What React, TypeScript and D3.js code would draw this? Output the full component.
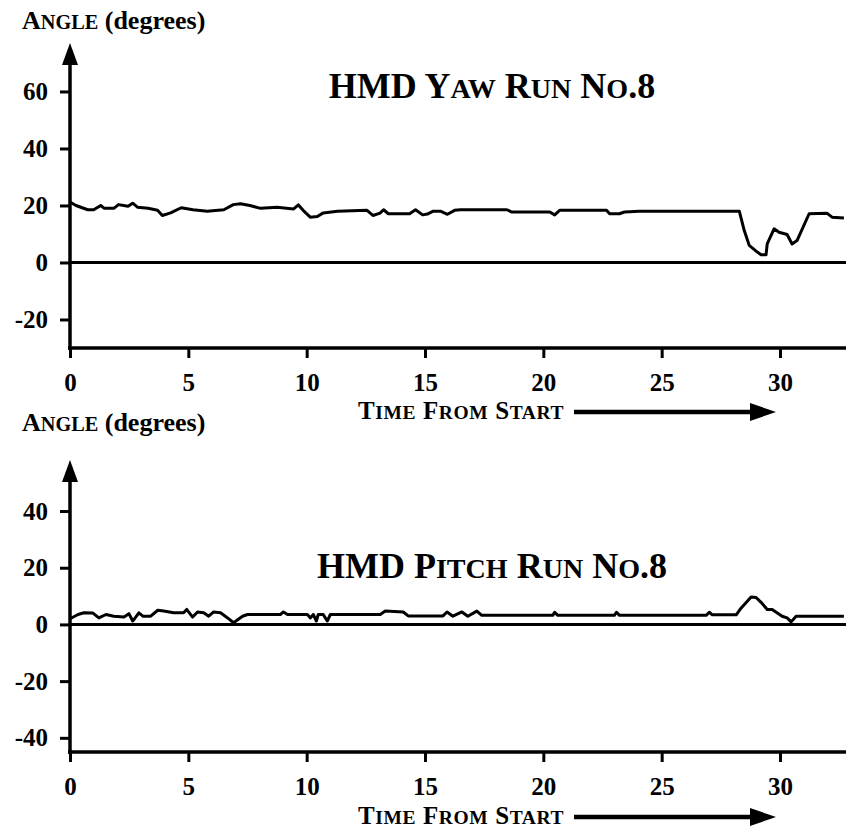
import React, { useEffect, useRef } from 'react';
import * as d3 from 'd3';

const WIDTH = 846;
const HEIGHT = 834;
const FONT = '"Liberation Serif", "Times New Roman", serif';

// ── Data ─────────────────────────────────────────────────────────────
const timeTicks = [0, 5, 10, 15, 20, 25, 30];
const yawTicks = [60, 40, 20, 0, -20];
const pitchTicks = [40, 20, 0, -20, -40];

// HMD yaw, run no.8 (seconds from start, degrees)
const yawTime = [0, 0.25, 0.75, 1.0, 1.3, 1.45, 1.85, 2.05, 2.45, 2.65, 2.85, 3.3, 3.7, 3.9, 4.25, 4.7, 5.2, 5.8, 6.5, 6.9, 7.2, 7.6, 8.05, 8.75, 9.45, 9.65, 9.85, 10.15, 10.45, 10.7, 11.3, 12.55, 12.8, 13.1, 13.25, 13.45, 14.35, 14.6, 14.9, 15.1, 15.35, 15.65, 15.95, 16.25, 16.5, 18.46, 18.67, 20.27, 20.48, 20.69, 22.67, 22.8, 23.21, 23.43, 24.06, 28.28, 28.49, 28.7, 28.99, 29.2, 29.41, 29.46, 29.75, 29.96, 30.3, 30.51, 30.72, 31.23, 31.98, 32.2, 32.7];
const yawAngle = [21.2, 20, 18.5, 18.5, 20, 19, 19, 20.3, 19.7, 20.8, 19.4, 19, 18.3, 16.5, 17.4, 19.2, 18.5, 18, 18.5, 20.3, 20.6, 20, 19, 19.4, 18.8, 20.2, 18.3, 15.9, 16.1, 17.4, 18, 18.3, 16.5, 17.3, 18.5, 17.1, 17.1, 18.5, 16.7, 17, 18, 18, 16.9, 18.3, 18.5, 18.5, 17.7, 17.7, 16.7, 18.3, 18.3, 17.1, 17.1, 17.7, 18, 18, 11.2, 6, 4, 2.7, 2.7, 6.5, 11.8, 10.6, 9.8, 6.5, 7.7, 17.1, 17.3, 15.9, 15.6];

// HMD pitch, run no.8
const pitchTime = [0, 0.34, 0.59, 0.97, 1.22, 1.52, 1.85, 2.28, 2.49, 2.65, 2.91, 3.08, 3.41, 3.71, 3.96, 4.38, 4.8, 4.93, 5.18, 5.39, 5.65, 5.86, 6.07, 6.36, 6.66, 6.91, 7.29, 7.5, 8.89, 9.02, 9.19, 10.03, 10.16, 10.28, 10.41, 10.49, 10.7, 10.87, 11.0, 13.11, 13.32, 14.08, 14.29, 15.76, 15.93, 16.18, 16.56, 16.81, 17.19, 17.4, 20.4, 20.48, 20.61, 23.0, 23.09, 23.22, 26.89, 27.01, 27.14, 28.15, 28.36, 28.78, 28.99, 29.2, 29.46, 29.67, 30.09, 30.3, 30.47, 30.68, 32.7];
const pitchAngle = [2, 3.5, 4.1, 4, 2.3, 3.5, 2.9, 2.6, 3.8, 1.2, 4.1, 2.9, 2.9, 5, 4.7, 4.1, 4.1, 5.3, 2.6, 4.4, 4.1, 2.9, 4.4, 4.1, 2.3, 0.6, 2.9, 3.5, 3.5, 4.4, 3.5, 3.5, 2.3, 3.5, 1.2, 3.5, 3.5, 1.2, 3.5, 3.5, 4.7, 4.4, 3, 3, 4.4, 2.9, 4.4, 2.9, 4.7, 3.2, 3.2, 4.3, 3.2, 3.2, 4.3, 3.2, 3.2, 4.3, 3.4, 3.4, 5.8, 9.7, 9.5, 7.8, 5.3, 5.3, 2.9, 2.3, 0.9, 2.9, 2.9];

// lowercase letters are drawn as small capitals
function smallCaps(text, str, size, ratio = 0.78) {
    (str.match(/[a-z]+|[^a-z]+/g) || []).forEach((run) => {
        const small = /^[a-z]/.test(run);
        text.append('tspan')
            .attr('font-size', small ? size * ratio : size)
            .text(small ? run.toUpperCase() : run);
    });
}

const App = () => {
    const svgRef = useRef<SVGSVGElement>(null);

    useEffect(() => {
        const svg = d3.select(svgRef.current);
        svg.selectAll('*').remove();

        const x = d3.scaleLinear().domain([0, 30]).range([70, 780]);
        const x0 = x(0);

        const panels = [
            { title: 'HMD Yaw Run No.8', time: yawTime, angle: yawAngle, ticks: yawTicks,
              domain: [-30, 77], range: [348, 43], titleAt: 62, labelY: 29, timeY: 412 },
            { title: 'HMD Pitch Run No.8', time: pitchTime, angle: pitchAngle, ticks: pitchTicks,
              domain: [-45, 58], range: [752, 460], titleAt: 20.5, labelY: 431, timeY: 817 },
        ];

        panels.forEach((p) => {
            const y = d3.scaleLinear().domain(p.domain).range(p.range);
            const yBottom = p.range[0];
            const yTop = p.range[1];
            const g = svg.append('g');

            // y axis with arrow
            g.append('line')
                .attr('x1', x0).attr('x2', x0)
                .attr('y1', yTop + 18).attr('y2', yBottom + 2)
                .attr('stroke', '#000').attr('stroke-width', 3.5);
            g.append('path')
                .attr('d', `M${x0},${yTop} L${x0 - 8},${yTop + 22} L${x0 + 8},${yTop + 22} Z`)
                .attr('fill', '#000');

            const yAxis = g.append('g')
                .attr('transform', `translate(${x0},0)`)
                .call(d3.axisLeft(y).tickValues(p.ticks).tickSize(10)
                    .tickPadding(12).tickFormat((d) => String(d)));
            yAxis.select('.domain').remove();
            yAxis.selectAll('line').attr('stroke-width', 3);
            yAxis.selectAll('text')
                .attr('font-family', FONT).attr('font-weight', 'bold').attr('font-size', 25)
                .attr('fill', '#000');

            // x axis
            g.append('line')
                .attr('x1', x0 - 2).attr('x2', WIDTH)
                .attr('y1', yBottom).attr('y2', yBottom)
                .attr('stroke', '#000').attr('stroke-width', 3.5);
            const xAxis = g.append('g')
                .attr('transform', `translate(0,${yBottom})`)
                .call(d3.axisBottom(x).tickValues(timeTicks).tickSize(10).tickPadding(15));
            xAxis.select('.domain').remove();
            xAxis.selectAll('line').attr('stroke-width', 3);
            xAxis.selectAll('text')
                .attr('font-family', FONT).attr('font-weight', 'bold').attr('font-size', 25)
                .attr('fill', '#000');

            // zero line
            g.append('line')
                .attr('x1', x0).attr('x2', WIDTH)
                .attr('y1', y(0)).attr('y2', y(0))
                .attr('stroke', '#000').attr('stroke-width', 3);

            // trace
            const line = d3.line<number>()
                .x((_d, i) => x(p.time[i]))
                .y((d) => y(d));
            g.append('path')
                .attr('d', line(p.angle))
                .attr('fill', 'none')
                .attr('stroke', '#000')
                .attr('stroke-width', 3)
                .attr('stroke-linejoin', 'round');

            // title
            const title = g.append('text')
                .attr('x', 492).attr('y', y(p.titleAt) + 12)
                .attr('text-anchor', 'middle')
                .attr('font-family', FONT).attr('font-weight', 'bold');
            smallCaps(title, p.title, 36);

            // y label
            const yl = g.append('text')
                .attr('x', 22).attr('y', p.labelY)
                .attr('font-family', FONT).attr('font-weight', 'bold');
            smallCaps(yl, 'Angle', 26);
            yl.append('tspan').attr('font-size', 26).text(' (degrees)');

            // time label + arrow
            const tl = g.append('text')
                .attr('x', 358).attr('y', p.timeY + 7)
                .attr('font-family', FONT).attr('font-weight', 'bold')
                .attr('letter-spacing', 0.6);
            smallCaps(tl, 'Time From Start', 25);
            g.append('line')
                .attr('x1', 574).attr('x2', 755)
                .attr('y1', p.timeY).attr('y2', p.timeY)
                .attr('stroke', '#000').attr('stroke-width', 4.5);
            g.append('path')
                .attr('d', `M776,${p.timeY} L750,${p.timeY - 9} L750,${p.timeY + 9} Z`)
                .attr('fill', '#000');
        });
    }, []);

    return (
        <svg
            ref={svgRef}
            width={WIDTH}
            height={HEIGHT}
            style={{ position: 'absolute', left: 0, top: 0, background: '#fff' }}
        />
    );
};

export default App;
